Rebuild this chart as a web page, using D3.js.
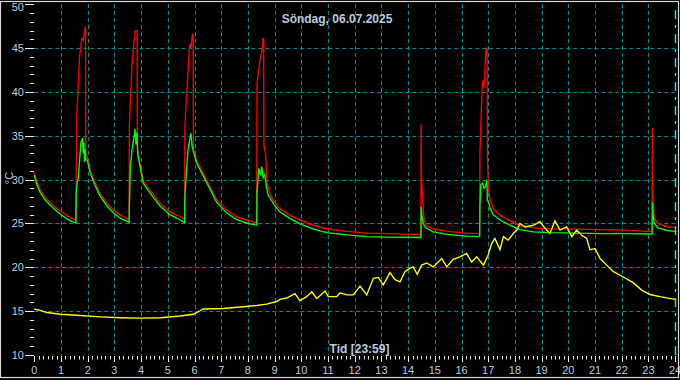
<!DOCTYPE html>
<html><head><meta charset="utf-8">
<script src="https://cdn.jsdelivr.net/npm/d3@7"></script>
<style>html,body{margin:0;padding:0;background:#000;} svg{display:block}</style>
</head><body><svg id="c" width="680" height="380"></svg>
<script>
const title = "Söndag, 06.07.2025";
const xLabel = "Tid [23:59]";
const yLabel = "°C";
const xTicks = d3.range(0, 25);
const yTicks = [10, 15, 20, 25, 30, 35, 40, 45, 50];

const red = [[0,30.8],[0.09,29.8],[0.21,28.9],[0.40,28.0],[0.59,27.4],[0.84,26.7],[1.09,26.2],[1.34,25.7],[1.53,25.45],[1.56,25.4],
[1.57,30.3],[1.59,37.2],[1.65,41.1],[1.69,43.8],[1.78,46.1],[1.84,45.9],[1.88,46.9],[1.92,47.5],[1.93,33.0],[1.99,32.5],[2.09,31.1],[2.28,29.6],[2.47,28.4],[2.72,27.3],[2.97,26.5],[3.22,25.95],[3.47,25.6],[3.55,25.4],
[3.56,36.0],[3.61,39.8],[3.66,43.2],[3.74,45.9],[3.79,47.0],[3.85,47.0],[3.86,33.4],[4.08,29.9],[4.33,28.8],[4.71,27.3],[5.08,26.3],[5.46,25.8],[5.63,25.45],
[5.64,36.0],[5.70,39.4],[5.76,42.5],[5.82,45.5],[5.87,45.0],[5.92,46.6],[5.95,46.6],[5.96,33.5],[6.08,32.2],[6.33,30.7],[6.58,29.2],[6.83,27.7],[7.21,26.5],[7.58,25.75],[7.96,25.4],[8.30,25.1],[8.33,25.1],
[8.34,40.8],[8.45,43.6],[8.53,44.7],[8.57,46.1],[8.59,46.1],[8.60,34.0],[8.66,33.0],[8.72,29.5],[8.83,28.4],[8.95,27.6],[9.20,26.7],[9.58,25.95],[9.95,25.4],[10.45,24.8],[10.95,24.4],[11.70,24.1],[12.45,23.9],[13.20,23.85],[14.45,23.75],[14.48,23.8],
[14.49,36.3],[14.50,30.5],[14.55,27.5],[14.60,25.4],[14.70,24.7],[14.94,24.4],[15.45,24.1],[16.19,23.9],[16.68,23.85],
[16.69,33.0],[16.74,37.9],[16.79,41.3],[16.84,40.5],[16.92,45.0],[16.96,45.0],[16.97,32.2],[17.02,28.8],[17.07,27.7],[17.19,26.7],[17.44,25.95],[17.82,25.3],[18.19,24.8],[18.69,24.5],[19.31,24.4],[20.31,24.35],[21.19,24.3],[22.19,24.25],[22.94,24.1],[23.14,24.1],
[23.15,35.9],[23.16,30.1],[23.18,27.5],[23.22,25.6],[23.36,25.0],[23.70,24.6],[24,24.55]];

const green = [[0,30.5],[0.09,29.5],[0.21,28.6],[0.40,27.7],[0.59,27.1],[0.84,26.4],[1.09,25.8],[1.34,25.3],[1.53,25.1],[1.56,25.05],
[1.57,28.4],[1.60,29.5],[1.65,30.3],[1.69,32.0],[1.75,34.3],[1.80,34.6],[1.84,33.0],[1.86,34.2],[1.88,32.0],[1.90,33.5],[1.93,32.3],[1.99,32.2],[2.09,30.8],[2.28,29.3],[2.47,28.1],[2.72,27.0],[2.97,26.2],[3.22,25.6],[3.47,25.25],[3.55,25.1],
[3.56,27.0],[3.60,31.5],[3.66,33.4],[3.74,35.0],[3.77,35.8],[3.81,34.0],[3.84,35.4],[3.88,32.8],[4.08,29.6],[4.33,28.5],[4.71,27.0],[5.08,26.0],[5.46,25.4],[5.63,25.1],
[5.64,28.0],[5.70,31.0],[5.76,33.5],[5.82,34.5],[5.87,35.3],[5.91,33.8],[5.96,33.2],[6.08,31.9],[6.33,30.4],[6.58,28.9],[6.83,27.4],[7.21,26.2],[7.58,25.45],[7.96,25.05],[8.33,24.8],
[8.34,28.5],[8.41,31.3],[8.47,30.5],[8.52,31.5],[8.57,30.2],[8.63,30.6],[8.69,29.3],[8.75,28.3],[8.95,27.3],[9.20,26.3],[9.58,25.55],[9.95,24.95],[10.45,24.35],[10.95,23.95],[11.70,23.7],[12.45,23.5],[13.20,23.45],[14.45,23.4],[14.48,23.4],
[14.49,26.9],[14.52,25.8],[14.57,25.0],[14.65,24.5],[14.94,24.05],[15.45,23.75],[16.19,23.55],[16.68,23.5],
[16.69,27.0],[16.72,29.4],[16.79,29.6],[16.85,29.0],[16.90,29.2],[16.95,30.0],[16.97,27.6],[17.02,27.4],[17.07,26.7],[17.19,26.0],[17.44,25.4],[17.82,24.8],[18.19,24.3],[18.69,24.05],[19.31,23.95],[20.31,23.9],[21.19,23.85],[22.19,23.85],[22.94,23.8],[23.14,23.8],
[23.15,27.4],[23.18,25.8],[23.22,25.0],[23.36,24.5],[23.70,24.2],[24,24.1]];

const yellow = [[0,15.25],[0.21,15.1],[0.47,14.85],[0.97,14.65],[1.72,14.5],[2.47,14.35],[3.22,14.25],[3.97,14.2],[4.73,14.25],[5.46,14.45],[5.96,14.65],[6.21,15.05],[6.33,15.25],[7.08,15.3],[7.83,15.5],[8.33,15.65],[8.70,15.8],[9.08,16.1],[9.20,16.35],[9.45,16.5],[9.76,17.0],[9.95,16.2],[10.20,16.65],[10.39,17.2],[10.58,16.45],[10.89,17.3],[11.01,16.65],[11.33,16.65],[11.45,17.1],[11.70,16.85],[11.95,16.85],[12.20,17.85],[12.45,16.85],[12.70,18.75],[12.88,18.85],[13.07,18.0],[13.32,19.4],[13.51,18.6],[13.70,18.35],[13.88,19.5],[14.07,19.9],[14.19,20.05],[14.34,19.2],[14.51,20.25],[14.70,20.5],[14.94,20.05],[15.26,21.0],[15.45,20.05],[15.69,20.9],[15.94,21.2],[16.19,21.6],[16.38,20.6],[16.57,21.2],[16.82,20.25],[17.00,21.4],[17.13,22.7],[17.25,23.3],[17.44,22.0],[17.57,23.5],[17.75,23.1],[17.94,23.85],[18.07,24.25],[18.19,25.0],[18.38,24.6],[18.69,24.8],[18.94,25.2],[19.13,24.45],[19.31,23.85],[19.50,25.3],[19.69,24.25],[19.94,24.6],[20.13,23.5],[20.31,24.25],[20.50,23.65],[20.69,23.3],[20.81,22.0],[21.00,22.15],[21.19,21.0],[21.44,20.25],[21.69,19.5],[22.06,18.9],[22.43,18.25],[22.75,17.4],[23.06,16.9],[23.43,16.65],[24,16.35]];

const svg = d3.select("#c");
const x = d3.scaleLinear().domain([0, 24]).range([34.3, 675.1]);
const y = d3.scaleLinear().domain([10, 50]).range([355, 4.3]);
const gridCol = "#008b8b", txtCol = "#b8cce0", tickCol = "#e8e8e8";

svg.append("rect").attr("width", 680).attr("height", 380).attr("fill", "#000");

// grid
svg.append("g").selectAll("line").data(yTicks.filter(d => d > 10 && d < 50)).join("line")
  .attr("x1", x(0)).attr("x2", x(24)).attr("y1", d => Math.round(y(d)) + 0.5).attr("y2", d => Math.round(y(d)) + 0.5)
  .attr("stroke", gridCol).attr("stroke-dasharray", "4,3");
svg.append("g").selectAll("line").data(xTicks.filter(d => d > 0 && d < 24)).join("line")
  .attr("x1", d => Math.round(x(d)) + 0.5).attr("x2", d => Math.round(x(d)) + 0.5).attr("y1", 4).attr("y2", y(10))
  .attr("stroke", gridCol).attr("stroke-dasharray", "4,3");
// marker at 24
svg.append("line").attr("x1", Math.round(x(24)) + 0.5).attr("x2", Math.round(x(24)) + 0.5).attr("y1", 10).attr("y2", y(10))
  .attr("stroke", "#19e6f0").attr("stroke-width", 1.4).attr("stroke-dasharray", "9,6,3,6");

// y ticks
const yMinor = d3.range(10, 51, 1);
svg.append("g").selectAll("line").data(yMinor).join("line")
  .attr("x1", d => yTicks.includes(d) ? 25 : 30).attr("x2", 34)
  .attr("y1", d => Math.round(y(d)) + 0.5).attr("y2", d => Math.round(y(d)) + 0.5)
  .attr("stroke", tickCol);
svg.append("g").selectAll("text").data(yTicks).join("text")
  .attr("x", 24).attr("y", d => Math.max(y(d) + 4, 11)).attr("text-anchor", "end")
  .attr("font-family", "Liberation Sans, Arial, sans-serif").attr("font-size", 11).attr("fill", txtCol)
  .text(d => d);

// x ticks
const xMinor = d3.range(0, 24 * 6 + 1).map(i => i / 6);
svg.append("g").selectAll("line").data(xMinor).join("line")
  .attr("x1", d => Math.round(x(d)) + 0.5).attr("x2", d => Math.round(x(d)) + 0.5)
  .attr("y1", 356).attr("y2", (d, i) => i % 6 === 0 ? 362 : 359.5)
  .attr("stroke", tickCol);
svg.append("g").selectAll("text").data(xTicks).join("text")
  .attr("x", d => x(d)).attr("y", 373.5).attr("text-anchor", "middle")
  .attr("font-family", "Liberation Sans, Arial, sans-serif").attr("font-size", 11).attr("fill", txtCol)
  .text(d => d);

// lines
const line = d3.line().x(d => x(d[0])).y(d => y(d[1]));
[[red, "#ff0000"], [green, "#00ff00"], [yellow, "#ffff00"]].forEach(([data, col]) => {
  svg.append("path").datum(data).attr("d", line).attr("fill", "none")
    .attr("stroke", col).attr("stroke-width", 1.35).attr("stroke-linejoin", "miter");
});

// labels
svg.append("text").attr("x", 337).attr("y", 22.5).attr("text-anchor", "middle")
  .attr("font-family", "Liberation Sans, Arial, sans-serif").attr("font-size", 12).attr("font-weight", "bold")
  .attr("fill", txtCol).text(title);
svg.append("text").attr("x", 359.5).attr("y", 353).attr("text-anchor", "middle")
  .attr("font-family", "Liberation Sans, Arial, sans-serif").attr("font-size", 12).attr("font-weight", "bold")
  .attr("fill", txtCol).text(xLabel);
svg.append("text").attr("transform", "translate(13,178) rotate(-90)").attr("text-anchor", "middle")
  .attr("font-family", "Liberation Sans, Arial, sans-serif").attr("font-size", 11)
  .attr("fill", txtCol).text(yLabel);

// frame
svg.append("rect").attr("x", 0.5).attr("y", 1.5).attr("width", 678).attr("height", 376)
  .attr("fill", "none").attr("stroke", "#d8d8d8").attr("stroke-width", 1.2);
</script></body></html>
